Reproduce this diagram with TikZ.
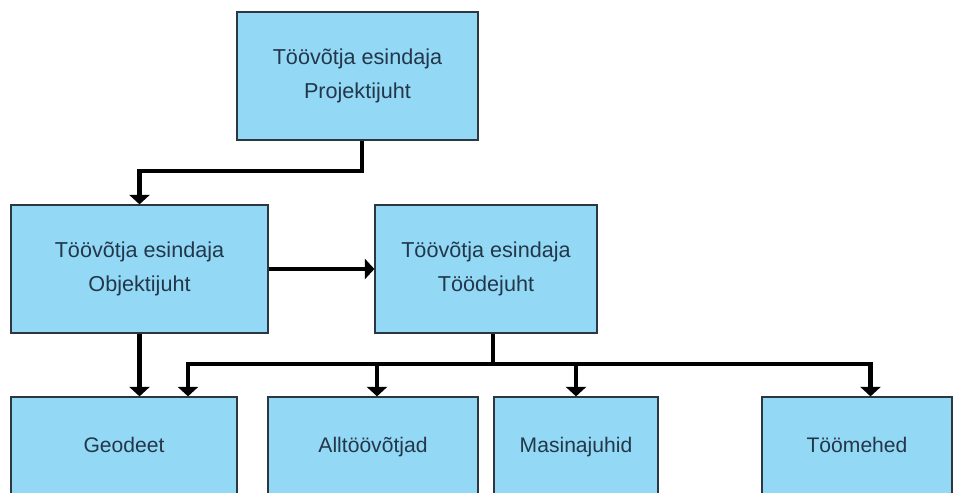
\documentclass[tikz,border=0pt]{standalone}
\usepackage{fontspec}
\setmainfont{Liberation Sans}
\usetikzlibrary{arrows.meta,positioning}
\definecolor{sky}{RGB}{147,217,245}
\definecolor{slate}{RGB}{45,55,65}
\definecolor{ink}{RGB}{35,55,75}
\tikzset{
  >={Triangle[width=4mm,length=1.9mm]},
  role/.style={draw=slate,fill=sky,line width=0.7pt,inner sep=0pt,
    minimum width=#1,minimum height=2.56cm,align=center,text=ink,
    font=\fontsize{12.3}{19.5}\selectfont},
  role/.default=4.4cm,
  crew/.style={role=#1,minimum height=2cm,text height=1.6ex,text depth=0.5ex,
    font=\fontsize{12}{14}\selectfont},
  crew/.default=4cm,
  lead/.style={draw=black,line width=2.3pt},
  order/.style={->,lead},
}
\begin{document}
\begin{tikzpicture}
        \useasboundingbox (0,0) rectangle (19.08,9.84);
        \clip (0,0) rectangle (19.08,9.84);
        % leadership
        \node[role=4.82cm] (proj) at (7.15,8.32) {Töövõtja esindaja\\Projektijuht};
        \node[role=5.14cm] (objekt) at (2.79,4.46) {Töövõtja esindaja\\Objektijuht};
        \node[role=4.44cm] (toode) at (9.72,4.46) {Töövõtja esindaja\\Töödejuht};
        % crews
        \node[crew=4.52cm] (geo) at (2.48,0.9) {Geodeet};
        \node[crew=4.2cm] (allt) at (7.46,0.9) {Alltöövõtjad};
        \node[crew=3.28cm] (mas) at (11.52,0.9) {Masinajuhid};
        \node[crew=3.8cm] (toom) at (17.14,0.9) {Töömehed};
        % links
        \draw[order] ([xshift=0.09cm]proj.south) -- ++(0,-0.6) -| (objekt.north);
        \draw[order] (objekt.east) -- (toode.west);
        \draw[order] (objekt.south) -- (objekt.south |- geo.north);
        \draw[lead] ([xshift=0.14cm]toode.south) -- ++(0,-0.6) coordinate (bar);
        \draw[order] (bar) -| ([xshift=1.28cm]geo.north);
        \draw[order] (bar) -| ([xshift=0.08cm]allt.north);
        \draw[order] (bar) -| (mas.north);
        \draw[order] (bar) -| ([xshift=0.27cm]toom.north);
      \end{tikzpicture}
\end{document}
